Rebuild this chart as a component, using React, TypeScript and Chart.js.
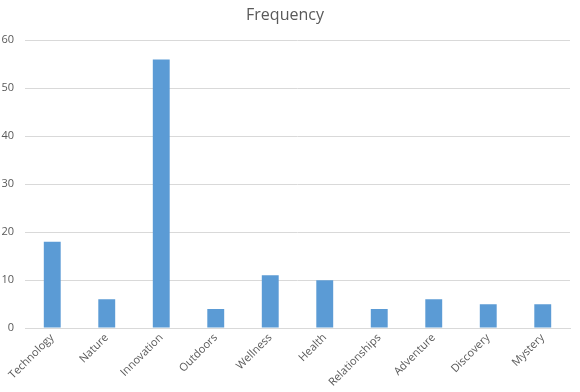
import React, { useEffect, useRef } from "react";
import { Chart, registerables } from "chart.js";

Chart.register(...registerables);

const categories = ["Technology", "Nature", "Innovation", "Outdoors", "Wellness", "Health", "Relationships", "Adventure", "Discovery", "Mystery"];
const frequency = [18, 6, 56, 4, 11, 10, 4, 6, 5, 5];
const yTicks = [0, 10, 20, 30, 40, 50, 60];

export default function App() {
  const ref = useRef<HTMLCanvasElement | null>(null);
  useEffect(() => {
    document.body.style.margin = "0";
    const ctx = ref.current;
    if (!ctx) return;
    const chart = new Chart(ctx, {
      type: "bar",
      data: {
        labels: categories,
        datasets: [{ label: "Frequency", data: frequency, backgroundColor: "#5B9BD5", barPercentage: 0.31, categoryPercentage: 1 }],
      },
      options: {
        animation: false,
        responsive: false,
        layout: { padding: { left: 0, right: 10, top: 4, bottom: 0 } },
        plugins: {
          legend: { display: false },
          tooltip: { enabled: false },
          title: {
            display: true,
            text: "Frequency",
            color: "#595959",
            font: { family: "'Open Sans', sans-serif", size: 16, weight: "normal" },
            padding: { top: 2, bottom: 15 },
          },
        },
        scales: {
          x: {
            afterFit: (scale: any) => {
              scale.paddingLeft = 0;
            },
            afterUpdate: (scale: any) => {
              scale.paddingLeft = 0;
            },
            grid: { display: false, drawTicks: false },
            border: { color: "#d9d9d9" },
            ticks: {
              color: "#595959",
              font: { family: "'Open Sans', sans-serif", size: 11 },
              maxRotation: 45,
              minRotation: 45,
              padding: 3,
              autoSkip: false,
            },
          },
          y: {
            min: 0,
            max: 60,
            afterBuildTicks: (axis: any) => {
              axis.ticks = yTicks.map((v) => ({ value: v }));
            },
            afterFit: (scale: any) => {
              scale.width = 25;
            },
            grid: { color: "#d9d9d9", drawTicks: false },
            border: { display: false },
            ticks: {
              color: "#595959",
              font: { family: "'Open Sans', sans-serif", size: 11 },
              padding: 11,
            },
          },
        },
      },
    });
    return () => chart.destroy();
  }, []);
  return (
    <div style={{ width: 580, height: 392 }}>
      <canvas ref={ref} width={580} height={392} />
    </div>
  );
}
